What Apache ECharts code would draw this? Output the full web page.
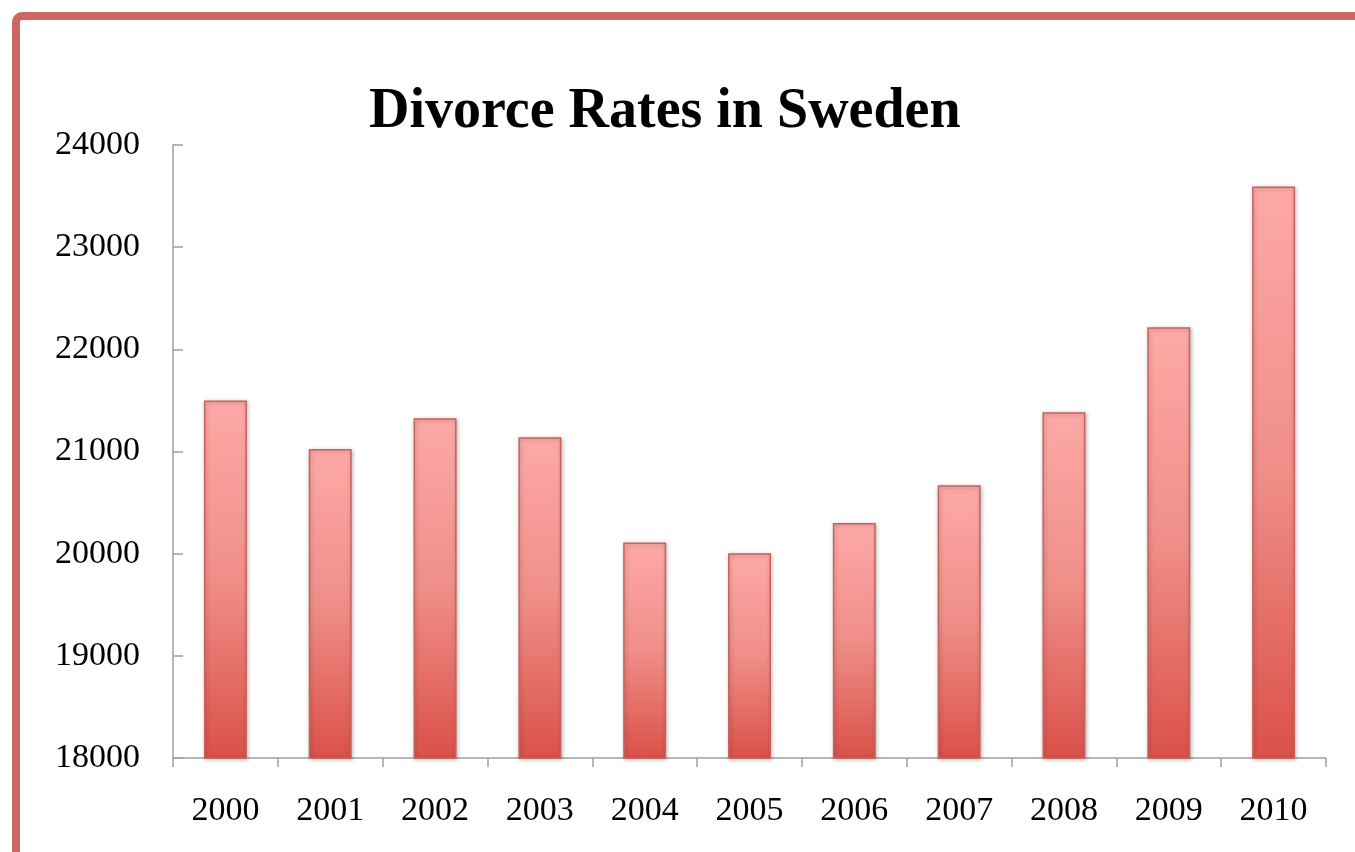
<!DOCTYPE html>
<html>
<head>
<meta charset="utf-8">
<script src="https://cdn.jsdelivr.net/npm/echarts@6/dist/echarts.min.js"></script>
<style>
  html, body { margin: 0; padding: 0; background: #ffffff; }
  #chart { width: 1355px; height: 852px; }
</style>
</head>
<body>
<div id="chart"></div>
<script>
const years = ['2000', '2001', '2002', '2003', '2004', '2005', '2006', '2007', '2008', '2009', '2010'];
const divorces = [21500, 21025, 21325, 21140, 20110, 20005, 20300, 20670, 21385, 22215, 23595];
const yTicks = { min: 18000, max: 24000, interval: 1000 };
const titleText = 'Divorce Rates in Sweden';

const chart = echarts.init(document.getElementById('chart'), null, { renderer: 'canvas' });
chart.setOption({
  backgroundColor: '#ffffff',
  animation: false,
  title: {
    text: titleText,
    left: 364,
    top: 80,
    textStyle: { fontFamily: 'Liberation Serif', fontWeight: 'bold', fontSize: 56, color: '#000000' }
  },
  graphic: [{
    type: 'rect',
    shape: { x: 16, y: 16, width: 1420, height: 900, r: 6 },
    style: { fill: 'none', stroke: '#CD6660', lineWidth: 8 },
    silent: true,
    z: 100
  }],
  grid: { left: 173, right: 29, top: 145, bottom: 94 },
  xAxis: {
    type: 'category',
    data: years,
    axisLine: { lineStyle: { color: '#A0A0A0', width: 1.5 } },
    axisTick: { show: true, length: 9, lineStyle: { color: '#A0A0A0', width: 1.5 } },
    axisLabel: { fontFamily: 'Liberation Serif', fontSize: 34, color: '#000000', margin: 36 }
  },
  yAxis: {
    type: 'value',
    min: yTicks.min,
    max: yTicks.max,
    interval: yTicks.interval,
    axisLine: { show: true, lineStyle: { color: '#A0A0A0', width: 1.5 } },
    axisTick: { show: true, inside: true, length: 10, lineStyle: { color: '#A0A0A0', width: 1.5 } },
    splitLine: { show: false },
    axisLabel: {
      fontFamily: 'Liberation Serif', fontSize: 34, color: '#000000', margin: 33,
      formatter: function (v) { return String(v); }
    }
  },
  series: [{
    type: 'bar',
    data: divorces,
    barWidth: '41%',
    itemStyle: {
      color: new echarts.graphic.LinearGradient(0, 0, 0, 1, [
        { offset: 0, color: '#FDA9A6' },
        { offset: 0.5, color: '#F08E88' },
        { offset: 1, color: '#DA5149' }
      ]),
      borderColor: '#C9625C',
      borderWidth: 1.5,
      shadowColor: 'rgba(0,0,0,0.25)',
      shadowBlur: 4,
      shadowOffsetX: 1,
      shadowOffsetY: 1
    }
  }]
});
</script>
</body>
</html>
